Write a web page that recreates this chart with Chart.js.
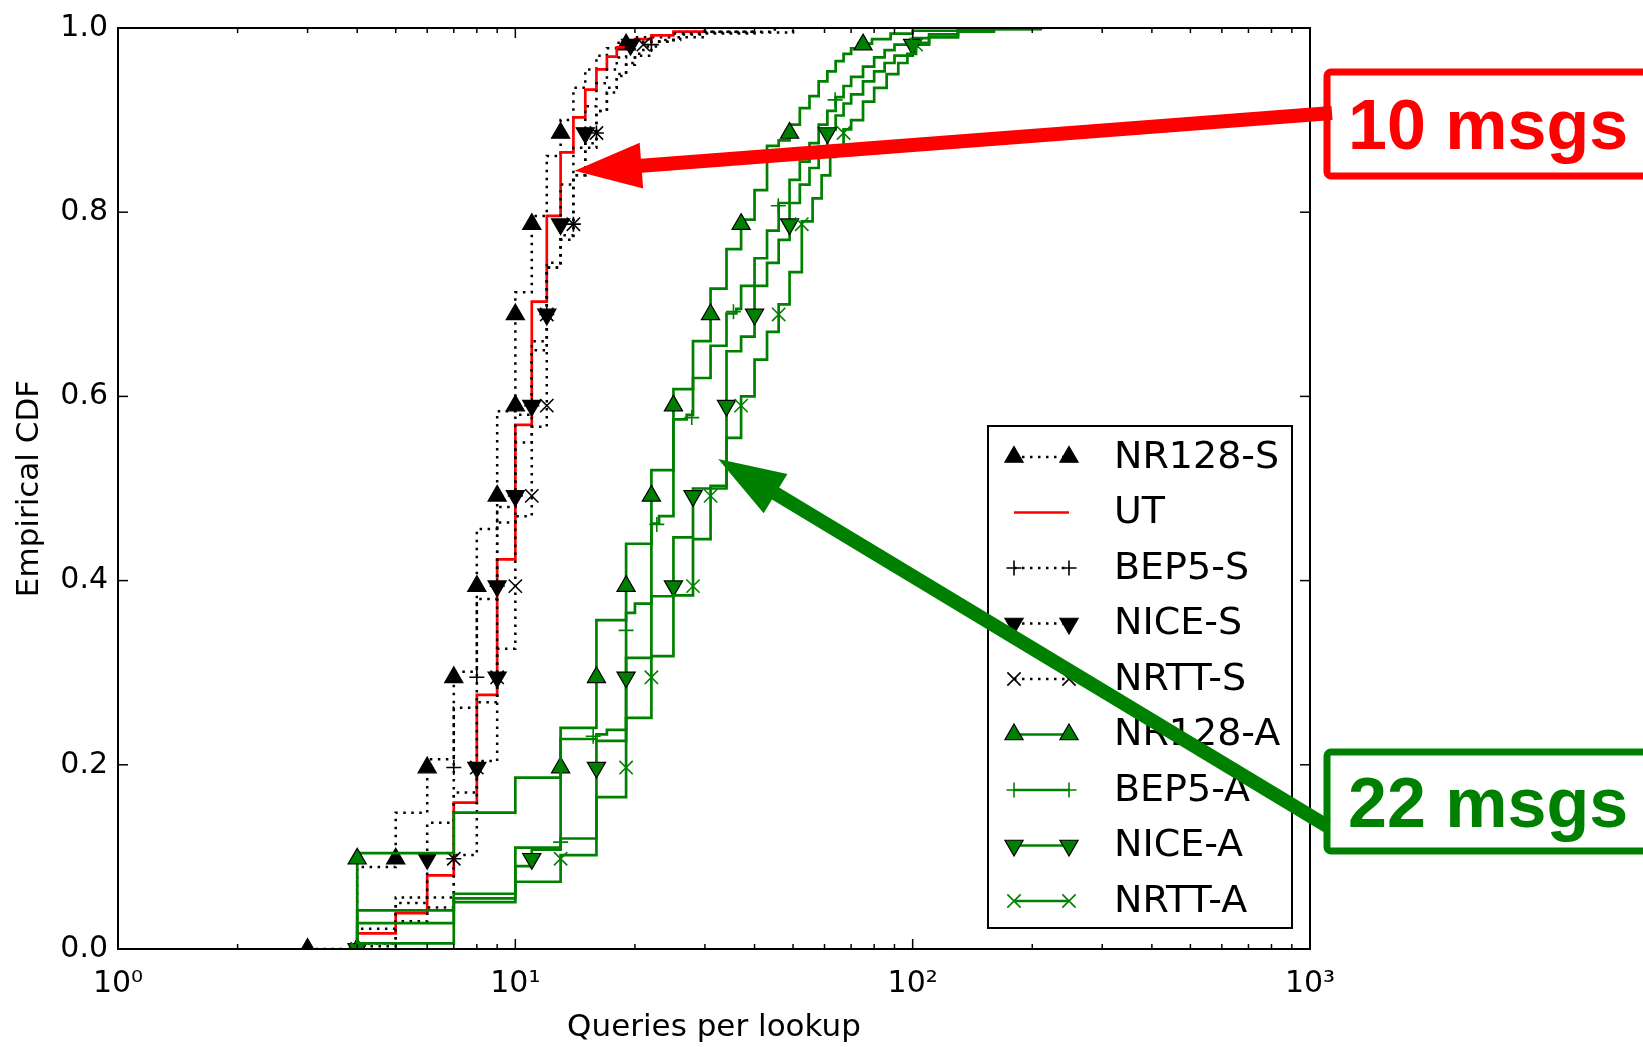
<!DOCTYPE html>
<html lang="en">
<head>
  <meta charset="UTF-8" />
  <title>Queries per lookup - Empirical CDF</title>
  <style>
    html, body { margin: 0; padding: 0; background: #fff; }
    #wrap { width: 1643px; height: 1047px; }
  </style>
</head>
<body>
  <div id="wrap"><canvas id="cdfChart" width="1643" height="1047"></canvas></div>

  <script src="https://cdn.jsdelivr.net/npm/chart.js"></script>
  <script>
    // ---- data ----
    const seriesNames = ['NR128-S', 'UT', 'BEP5-S', 'NICE-S', 'NRTT-S', 'NR128-A', 'BEP5-A', 'NICE-A', 'NRTT-A'];

    // step points (x = queries, y = cumulative fraction)
    const nr128sX = [3, 4, 5, 6, 7, 8, 9, 10, 11, 12, 13, 14, 15, 16, 17, 18, 20, 25, 40];
    const nr128sY = [0, 0.089, 0.148, 0.206, 0.301, 0.456, 0.584, 0.713, 0.796, 0.861, 0.90, 0.935, 0.955, 0.97, 0.978, 0.984, 0.99, 0.996, 1.0];

    const utX = [4, 4, 5, 6, 7, 8, 9, 10, 11, 12, 13, 14, 15, 16, 17, 18, 19, 20, 22, 25, 30];
    const utY = [0, 0.017, 0.039, 0.08, 0.159, 0.276, 0.423, 0.569, 0.703, 0.796, 0.865, 0.903, 0.933, 0.955, 0.969, 0.979, 0.985, 0.988, 0.992, 0.996, 1.0];

    const bep5sX = [4, 4, 5, 7, 8, 9, 10, 11, 12, 13, 14, 15, 16, 17, 18, 19, 20, 22, 25, 30, 50];
    const bep5sY = [0, 0.006, 0.056, 0.262, 0.38, 0.48, 0.58, 0.66, 0.74, 0.77, 0.84, 0.875, 0.91, 0.93, 0.948, 0.96, 0.97, 0.985, 0.99, 0.995, 1.0];

    const niceSX = [4, 4, 5, 6, 7, 8, 9, 10, 11, 12, 13, 14, 15, 16, 17, 18, 19, 20, 25, 40];
    const niceSY = [0, 0.022, 0.05, 0.137, 0.17, 0.204, 0.463, 0.55, 0.65, 0.745, 0.83, 0.87, 0.915, 0.94, 0.955, 0.968, 0.978, 0.985, 0.994, 1.0];

    const nrttSX = [4, 4, 5, 6, 7, 8, 9, 10, 11, 12, 13, 14, 15, 16, 17, 18, 19, 20, 21, 23, 26, 30, 45];
    const nrttSY = [0, 0.003, 0.03, 0.045, 0.102, 0.268, 0.326, 0.47, 0.567, 0.74, 0.775, 0.84, 0.87, 0.91, 0.935, 0.95, 0.962, 0.972, 0.98, 0.987, 0.993, 0.996, 1.0];

    const nr128aX = [4, 4, 7, 10, 13, 16, 19, 22, 25, 28, 31, 34, 37, 40, 43, 46, 49, 52, 55, 58, 61, 64, 67, 70, 73, 79, 88, 100, 130, 200];
    const nr128aY = [0, 0.104, 0.148, 0.186, 0.24, 0.357, 0.44, 0.52, 0.608, 0.66, 0.717, 0.76, 0.792, 0.824, 0.872, 0.878, 0.895, 0.913, 0.926, 0.942, 0.953, 0.964, 0.972, 0.978, 0.983, 0.988, 0.994, 0.997, 0.999, 1.0];

    const bep5aX = [4, 4, 7, 10, 13, 16, 17, 19, 20, 22, 23, 25, 27, 28, 31, 34, 36, 37, 40, 43, 46, 49, 52, 55, 58, 61, 64, 67, 70, 75, 80, 85, 90, 100, 110, 130, 160, 210];
    const bep5aY = [0, 0.042, 0.06, 0.11, 0.228, 0.233, 0.238, 0.365, 0.375, 0.462, 0.47, 0.575, 0.58, 0.62, 0.655, 0.69, 0.695, 0.72, 0.75, 0.78, 0.81, 0.835, 0.855, 0.875, 0.895, 0.91, 0.925, 0.937, 0.947, 0.958, 0.968, 0.976, 0.982, 0.989, 0.993, 0.997, 0.999, 1.0];

    const niceAX = [4, 4, 7, 10, 11, 13, 16, 19, 22, 25, 28, 31, 34, 37, 40, 43, 46, 49, 52, 55, 58, 61, 64, 67, 70, 75, 80, 85, 90, 100, 110, 130, 160, 210];
    const niceAY = [0, 0.028, 0.055, 0.09, 0.108, 0.12, 0.226, 0.316, 0.383, 0.447, 0.50, 0.503, 0.649, 0.665, 0.72, 0.745, 0.77, 0.81, 0.83, 0.848, 0.865, 0.89, 0.905, 0.918, 0.928, 0.942, 0.953, 0.962, 0.97, 0.982, 0.99, 0.996, 0.999, 1.0];

    const nrttAX = [4, 4, 7, 10, 13, 16, 19, 22, 25, 28, 31, 34, 37, 40, 43, 46, 49, 52.6, 56, 59, 62, 64, 67, 70, 75, 80, 86, 92, 97, 102, 110, 130, 160, 210];
    const nrttAY = [0, 0.006, 0.051, 0.073, 0.102, 0.165, 0.251, 0.318, 0.384, 0.445, 0.50, 0.555, 0.60, 0.64, 0.67, 0.70, 0.735, 0.79, 0.815, 0.84, 0.86, 0.87, 0.89, 0.90, 0.92, 0.935, 0.95, 0.962, 0.972, 0.984, 0.99, 0.996, 0.999, 1.0];

    // marker positions (markers every ~10% of samples)
    const markLevels = [0, 0.098, 0.197, 0.295, 0.394, 0.492, 0.59, 0.689, 0.787, 0.886, 0.982];
    const bep5aMarkLevels = [0, 0.116, 0.231, 0.346, 0.461, 0.577, 0.692, 0.807, 0.922];
    const nr128sMarkX = [3, 5, 6, 7, 8, 9, 10, 10, 11, 13, 19];
    const bep5sMarkX = [4, 7, 7, 8, 9, 10, 11, 12, 14, 16, 22];
    const niceSMarkX = [4, 6, 8, 9, 9, 10, 11, 12, 13, 15, 19.5];
    const nrttSMarkX = [4, 7, 8, 9, 10, 11, 12, 12, 14, 16, 21];
    const nr128aMarkX = [4, 4, 13, 16, 19, 22, 25, 31, 37, 49, 75];
    const bep5aMarkX = [4, 13, 15.7, 19, 22.7, 27.8, 35.4, 45.9, 63.8];
    const niceAMarkX = [4, 11, 16, 19, 25, 28, 34, 40, 49, 61, 100];
    const nrttAMarkX = [4, 13, 19, 22, 28, 31, 37, 46, 52.6, 67, 102];

    // axes
    const xTickValues = [1, 10, 100, 1000];
    const xTickLabels = ['10\u2070', '10\u00B9', '10\u00B2', '10\u00B3'];
    const xMinorTicks = [2, 3, 4, 5, 6, 7, 8, 9, 20, 30, 40, 50, 60, 70, 80, 90, 200, 300, 400, 500, 600, 700, 800, 900];
    const yTickValues = [0, 0.2, 0.4, 0.6, 0.8, 1.0];
    const yTickLabels = ['0.0', '0.2', '0.4', '0.6', '0.8', '1.0'];

    // ---- styles ----
    const BLACK = '#000000';
    const RED = '#ff0000';
    const GREEN = '#008000';
    const DOT = [2.5, 5.5];

    Chart.defaults.font.family = '"DejaVu Sans", sans-serif';

    const series = [
      { xs: nr128sX, ys: nr128sY, mx: nr128sMarkX, my: markLevels, color: BLACK, dash: DOT, marker: 'triangle', rot: 0 },
      { xs: utX, ys: utY, mx: null, my: null, color: RED, dash: [], marker: null, rot: 0 },
      { xs: bep5sX, ys: bep5sY, mx: bep5sMarkX, my: markLevels, color: BLACK, dash: DOT, marker: 'cross', rot: 0 },
      { xs: niceSX, ys: niceSY, mx: niceSMarkX, my: markLevels, color: BLACK, dash: DOT, marker: 'triangle', rot: 180 },
      { xs: nrttSX, ys: nrttSY, mx: nrttSMarkX, my: markLevels, color: BLACK, dash: DOT, marker: 'crossRot', rot: 0 },
      { xs: nr128aX, ys: nr128aY, mx: nr128aMarkX, my: markLevels, color: GREEN, dash: [], marker: 'triangle', rot: 0 },
      { xs: bep5aX, ys: bep5aY, mx: bep5aMarkX, my: bep5aMarkLevels, color: GREEN, dash: [], marker: 'cross', rot: 0 },
      { xs: niceAX, ys: niceAY, mx: niceAMarkX, my: markLevels, color: GREEN, dash: [], marker: 'triangle', rot: 180 },
      { xs: nrttAX, ys: nrttAY, mx: nrttAMarkX, my: markLevels, color: GREEN, dash: [], marker: 'crossRot', rot: 0 }
    ];

    function markerStyle(s) {
      const filled = s.marker === 'triangle';
      return {
        pointStyle: s.marker,
        radius: s.marker === 'triangle' ? 10.5 : (s.marker === 'cross' ? 7.5 : 9.4),
        rotation: s.rot,
        fill: filled ? s.color : 'rgba(0,0,0,0)',
        stroke: filled ? BLACK : s.color,
        borderWidth: filled ? 1.2 : 1.6
      };
    }

    const toPoints = (xs, ys) => xs.map((x, i) => ({ x: x, y: ys[i] }));

    const datasets = [];
    series.forEach((s, k) => {
      datasets.push({
        label: seriesNames[k],
        data: toPoints(s.xs, s.ys),
        showLine: true,
        stepped: 'before',
        borderColor: s.color,
        borderWidth: s.dash.length ? 2.5 : 2.7,
        borderDash: s.dash,
        borderCapStyle: 'butt',
        borderJoinStyle: 'miter',
        pointRadius: 0,
        fill: false,
        clip: 0,
        order: 200 - 2 * k
      });
      if (s.marker) {
        const m = markerStyle(s);
        datasets.push({
          label: seriesNames[k] + ' markers',
          data: toPoints(s.mx, s.my),
          showLine: false,
          pointStyle: m.pointStyle,
          pointRadius: m.radius,
          pointRotation: m.rotation,
          pointBackgroundColor: m.fill,
          pointBorderColor: m.stroke,
          pointBorderWidth: m.borderWidth,
          clip: 0,
          order: 199 - 2 * k
        });
      }
    });

    // frame with inward ticks like the original figure
    const frameTicks = {
      id: 'frameTicks',
      afterDatasetsDraw(chart) {
        const { ctx, chartArea: a, scales: { x, y } } = chart;
        const seg = (x0, y0, x1, y1) => { ctx.beginPath(); ctx.moveTo(x0, y0); ctx.lineTo(x1, y1); ctx.stroke(); };
        ctx.save();
        ctx.strokeStyle = BLACK;
        ctx.lineWidth = 1.5;
        xTickValues.forEach(v => {
          const px = x.getPixelForValue(v);
          seg(px, a.bottom, px, a.bottom - 10);
          seg(px, a.top, px, a.top + 10);
        });
        xMinorTicks.forEach(v => {
          const px = x.getPixelForValue(v);
          seg(px, a.bottom, px, a.bottom - 5);
          seg(px, a.top, px, a.top + 5);
        });
        yTickValues.forEach(v => {
          const py = y.getPixelForValue(v);
          seg(a.left, py, a.left + 10, py);
          seg(a.right, py, a.right - 10, py);
        });
        ctx.lineWidth = 2;
        ctx.strokeRect(a.left, a.top, a.right - a.left, a.bottom - a.top);
        ctx.restore();
      }
    };

    // legend: marker - line - marker, then name
    const legendBox = { left: 988, top: 426, right: 1292, bottom: 928 };
    const lineLegend = {
      id: 'lineLegend',
      afterDatasetsDraw(chart) {
        const ctx = chart.ctx;
        ctx.save();
        ctx.fillStyle = '#fff';
        ctx.fillRect(legendBox.left, legendBox.top, legendBox.right - legendBox.left, legendBox.bottom - legendBox.top);
        ctx.strokeStyle = BLACK;
        ctx.lineWidth = 2;
        ctx.strokeRect(legendBox.left, legendBox.top, legendBox.right - legendBox.left, legendBox.bottom - legendBox.top);

        const x0 = 1014, x1 = 1069, tx = 1114;
        series.forEach((s, k) => {
          const ry = 457 + k * 55.5;
          ctx.beginPath();
          ctx.setLineDash(s.dash);
          ctx.lineCap = 'butt';
          ctx.strokeStyle = s.color;
          ctx.lineWidth = s.dash.length ? 2.5 : 2.7;
          ctx.moveTo(x0, ry);
          ctx.lineTo(x1, ry);
          ctx.stroke();
          ctx.setLineDash([]);
          if (s.marker) {
            const m = markerStyle(s);
            [x0, x1].forEach(mx => {
              ctx.fillStyle = m.fill;
              ctx.strokeStyle = m.stroke;
              ctx.lineWidth = m.borderWidth;
              Chart.helpers.drawPoint(ctx, { pointStyle: m.pointStyle, radius: m.radius, rotation: m.rotation, borderWidth: m.borderWidth }, mx, ry);
            });
          }
          ctx.fillStyle = BLACK;
          ctx.font = '38px "DejaVu Sans"';
          ctx.textBaseline = 'middle';
          ctx.textAlign = 'left';
          ctx.fillText(seriesNames[k], tx, ry + 1);
        });
        ctx.restore();
      }
    };

    // callouts: boxed labels with thick arrows pointing at the curves
    const callouts = [
      { text: '10 msgs', color: RED, box: { x: 1327, y: 72, h: 104 }, tail: { x: 1332, y: 113 }, tip: { x: 14.1, y: 0.845 } },
      { text: '22 msgs', color: GREEN, box: { x: 1327, y: 752, h: 99 }, tail: { x: 1327, y: 826 }, tip: { x: 32.4, y: 0.532 } }
    ];

    function drawArrow(ctx, x0, y0, x1, y1, color) {
      const shaftW = 14, headL = 67, headW = 46;
      const ang = Math.atan2(y1 - y0, x1 - x0);
      const len = Math.hypot(x1 - x0, y1 - y0);
      ctx.save();
      ctx.translate(x1, y1);
      ctx.rotate(ang);
      ctx.beginPath();
      ctx.moveTo(0, 0);
      ctx.lineTo(-headL, -headW / 2);
      ctx.lineTo(-headL, -shaftW / 2);
      ctx.lineTo(-len, -shaftW / 2);
      ctx.lineTo(-len, shaftW / 2);
      ctx.lineTo(-headL, shaftW / 2);
      ctx.lineTo(-headL, headW / 2);
      ctx.closePath();
      ctx.fillStyle = color;
      ctx.fill();
      ctx.restore();
    }

    const calloutPlugin = {
      id: 'callouts',
      afterDraw(chart) {
        const { ctx, scales: { x, y } } = chart;
        ctx.save();
        callouts.forEach(c => {
          ctx.beginPath();
          ctx.roundRect(c.box.x, c.box.y, 420, c.box.h, 4);
          ctx.fillStyle = '#fff';
          ctx.fill();
          ctx.lineWidth = 7;
          ctx.strokeStyle = c.color;
          ctx.stroke();
          ctx.fillStyle = c.color;
          ctx.font = 'bold 70px "Liberation Sans"';
          ctx.textBaseline = 'alphabetic';
          ctx.textAlign = 'left';
          ctx.fillText(c.text, c.box.x + 21, c.box.y + c.box.h / 2 + 25);
          drawArrow(ctx, c.tail.x, c.tail.y, x.getPixelForValue(c.tip.x), y.getPixelForValue(c.tip.y), c.color);
        });
        ctx.restore();
      }
    };

    new Chart(document.getElementById('cdfChart'), {
      type: 'scatter',
      data: { datasets: datasets },
      options: {
        responsive: false,
        animation: false,
        events: [],
        layout: { padding: { top: 23, right: 333, bottom: 0, left: 0 } },
        plugins: { legend: { display: false }, tooltip: { enabled: false } },
        scales: {
          x: {
            type: 'logarithmic',
            min: 1,
            max: 1000,
            afterBuildTicks: s => { s.ticks = xTickValues.map(v => ({ value: v })); },
            afterFit: s => { s.height = 98; },
            grid: { display: false, drawTicks: false },
            border: { display: false },
            ticks: {
              color: BLACK,
              font: { size: 30 },
              padding: 17,
              maxRotation: 0,
              autoSkip: false,
              callback: (v, i) => xTickLabels[i]
            },
            title: { display: true, text: 'Queries per lookup', color: BLACK, font: { size: 31 }, padding: { top: 0, bottom: 0 } }
          },
          y: {
            type: 'linear',
            min: 0,
            max: 1,
            afterBuildTicks: s => { s.ticks = yTickValues.map(v => ({ value: v })); },
            afterFit: s => { s.width = 118; },
            grid: { display: false, drawTicks: false },
            border: { display: false },
            ticks: {
              color: BLACK,
              font: { size: 30 },
              padding: 10,
              callback: (v, i) => yTickLabels[i]
            },
            title: { display: true, text: 'Empirical CDF', color: BLACK, font: { size: 31 }, padding: { top: 11, bottom: 0 } }
          }
        }
      },
      plugins: [frameTicks, lineLegend, calloutPlugin]
    });
  </script>
</body>
</html>
